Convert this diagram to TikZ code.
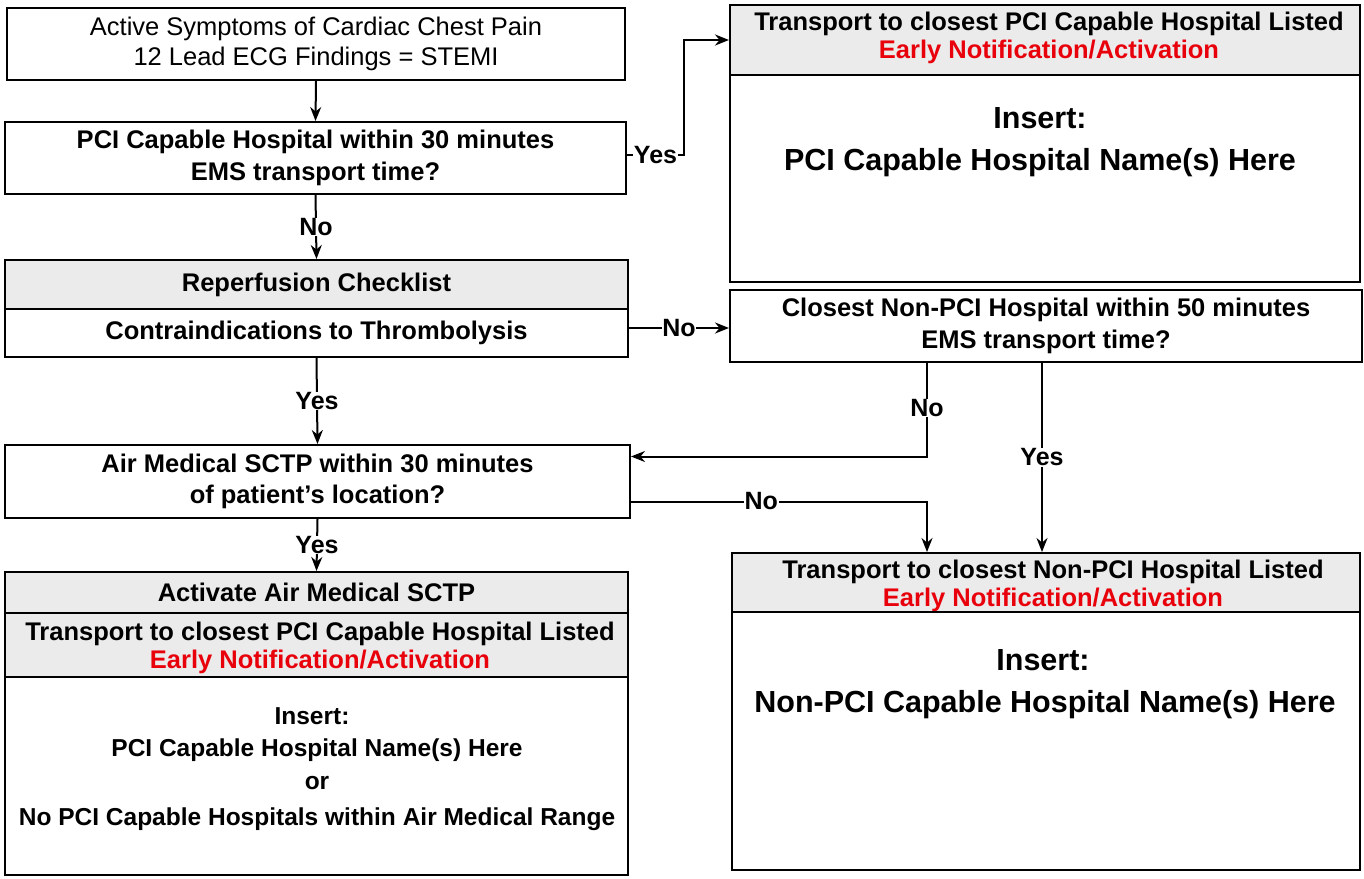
\documentclass[tikz,border=0pt]{standalone}
\usepackage{fontspec}
\setmainfont{Liberation Sans}
\usetikzlibrary{arrows.meta,calc}
\definecolor{hdr}{HTML}{EBEBEB}
\definecolor{alert}{HTML}{E8000B}
\begin{document}
\begin{tikzpicture}[x=1pt,y=-1pt,
  box/.style={draw, line width=2pt, inner sep=0pt, align=center},
  hd/.style={box, fill=hdr},
  bf/.style={font=\fontsize{25.5}{30}\selectfont\bfseries},
  bfw/.style={font=\fontsize{25.5}{31.5}\selectfont\bfseries},
  bfh/.style={font=\fontsize{25.5}{28}\selectfont\bfseries, align=center, inner sep=0pt},
  big/.style={font=\fontsize{30.5}{36}\selectfont\bfseries, inner sep=0pt, anchor=base},
  body/.style={font=\fontsize{24.5}{30}\selectfont\bfseries, inner sep=0pt, anchor=base},
  arr/.style={line width=2pt, -{Stealth[length=14pt,width=11pt]}},
  lab/.style={font=\fontsize{25}{30}\selectfont\bfseries, fill=white, inner sep=0.6pt}]

\fill[white] (0,0) rectangle (1364,878);
\useasboundingbox (0,0) rectangle (1364,878);

% left column
\node[box, minimum width=618, minimum height=72, font=\fontsize{25.5}{30}\selectfont] (start) at (316,44)
  {Active Symptoms of Cardiac Chest Pain\\12 Lead ECG Findings = STEMI};
\node[box, bfw, minimum width=621, minimum height=72] (pci) at (315.5,158)
  {PCI Capable Hospital within 30 minutes\\EMS transport time?};
\node[hd, bf, minimum width=623, minimum height=49] (repH) at (316.5,284.5) {Reperfusion Checklist};
\node[box, bf, minimum width=623, minimum height=48] (repB) at (316.5,333) {Contraindications to Thrombolysis};
\node[box, bfw, minimum width=625, minimum height=73] (air) at (317.5,481.5)
  {Air Medical SCTP within 30 minutes\\of patient’s location?};
\node[hd, bf, minimum width=623, minimum height=41] (blH1) at (316.5,592.5) {Activate Air Medical SCTP};
\node[hd, bf, minimum width=623, minimum height=64] (blH2) at (316.5,645) {};
\node[bfh] (blHt) at (320,648)
  {Transport to closest PCI Capable Hospital Listed\\\textcolor{alert}{Early Notification/Activation}};
\node[box, minimum width=623, minimum height=198] (blB) at (316.5,776) {};
\node[body] (blIns) at (312,724) {Insert:};
\node[body] (blName) at (317,756) {PCI Capable Hospital Name(s) Here};
\node[body] (blOr) at (317,789) {or};
\node[body] (blNone) at (317,825) {No PCI Capable Hospitals within Air Medical Range};

% right column
\node[hd, minimum width=630, minimum height=70] (trH) at (1045,40) {};
\node[bfh] (trHt) at (1049,38)
  {Transport to closest PCI Capable Hospital Listed\\\textcolor{alert}{Early Notification/Activation}};
\node[box, minimum width=630, minimum height=207] (trB) at (1045,178.5) {};
\node[big] (trIns) at (1040,128) {Insert:};
\node[big] (trName) at (1040,170) {PCI Capable Hospital Name(s) Here};

\node[box, bfw, minimum width=632, minimum height=72] (npci) at (1046,326)
  {Closest Non-PCI Hospital within 50 minutes\\EMS transport time?};

\node[hd, minimum width=628, minimum height=59] (brH) at (1046,582.5) {};
\node[bfh] (brHt) at (1053,586)
  {Transport to closest Non-PCI Hospital Listed\\\textcolor{alert}{Early Notification/Activation}};
\node[box, minimum width=628, minimum height=258] (brB) at (1046,741) {};
\node[big] (brIns) at (1043,670) {Insert:};
\node[big] (brName) at (1045,712) {Non-PCI Capable Hospital Name(s) Here};

% connectors
\draw[arr] (start.south) -- (pci.north);
\draw[arr] (pci.south) -- node[lab]{No} (repH.north);
\draw[arr] ([yshift=3pt]pci.east) -- node[lab]{Yes} ++(57,0) |- (trH.west);
\draw[arr] ([yshift=5pt]repB.east) -- node[lab]{No} ([yshift=5pt]npci.west |- repB.east);
\draw[arr] (repB.south) -- node[lab]{Yes} (air.north);

\coordinate (nNo) at ([xshift=198pt]npci.south west);
\coordinate (nYes) at ([xshift=313pt]npci.south west);
\coordinate (aIn) at ([yshift=25pt]air.east);
\coordinate (aOut) at ([yshift=-20pt]air.east);

\draw[arr] (nNo) |- node[lab, pos=0.24]{No} (aIn);
\draw[arr] (nYes) -- node[lab]{Yes} (nYes |- brH.north);
\draw[arr] (aOut) -| node[lab, pos=0.22]{No} (nNo |- brH.north);
\draw[arr] (air.south) -- node[lab]{Yes} (blH1.north);
\end{tikzpicture}
\end{document}
